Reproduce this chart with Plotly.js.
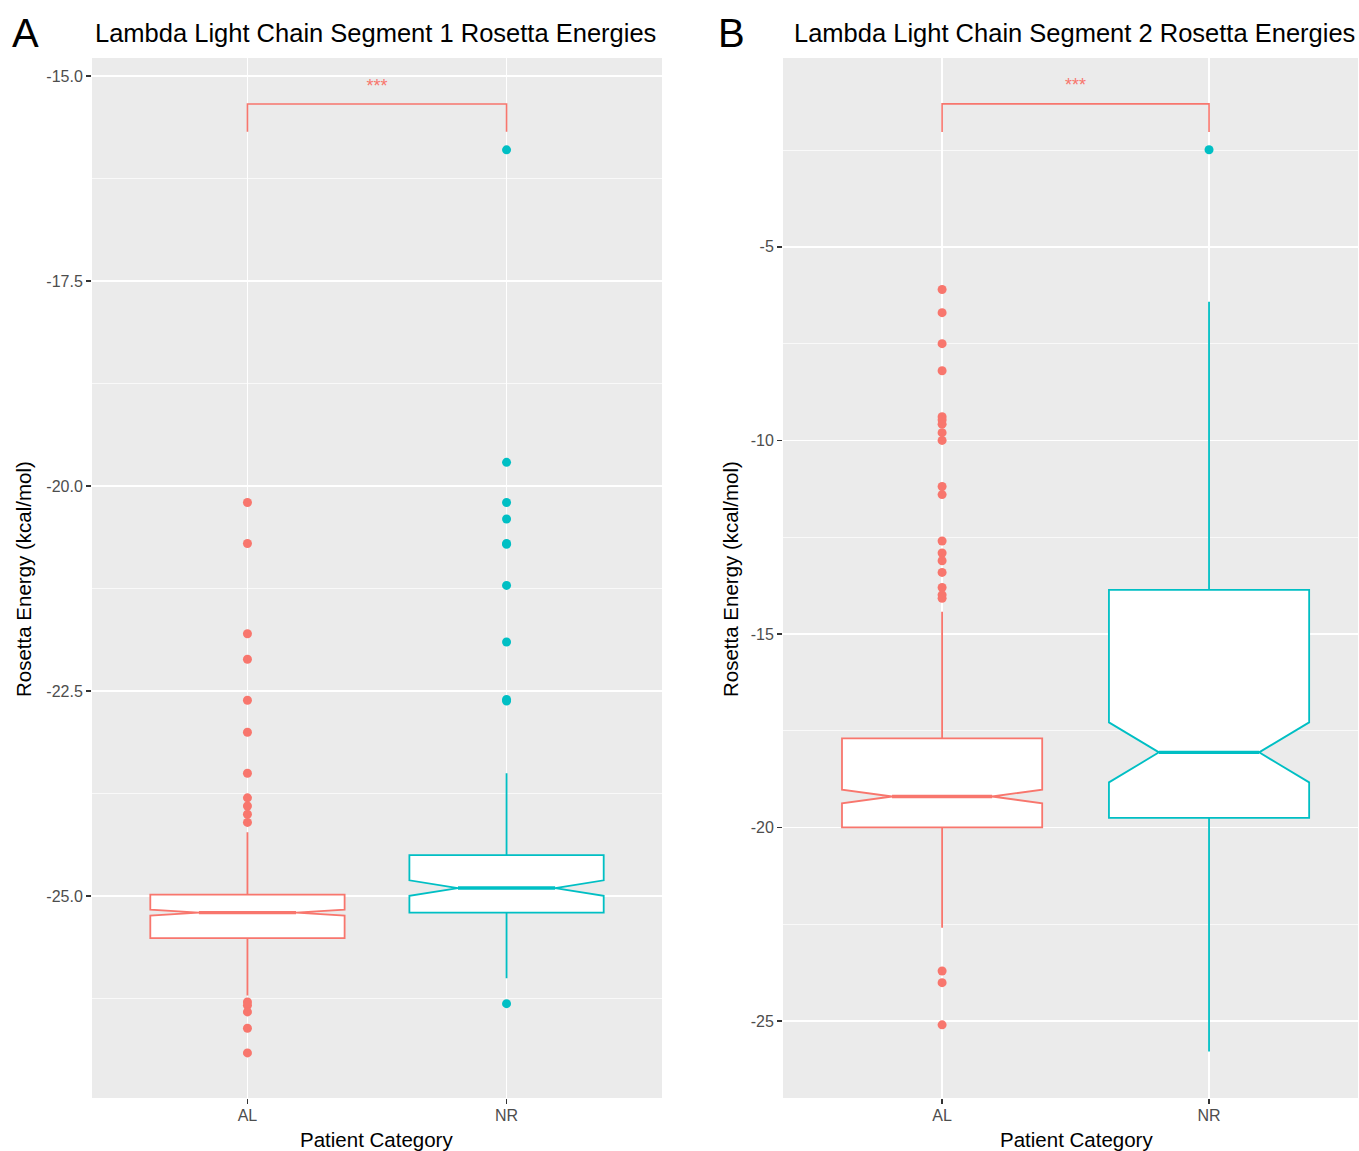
<!DOCTYPE html>
<html>
<head>
<meta charset="utf-8">
<script src="https://cdn.plot.ly/plotly-3.0.1.min.js"></script>
<style>html,body{margin:0;padding:0;background:#fff;}#chart{width:1359px;height:1151px;}</style>
</head>
<body>
<div id="chart"></div>
<script>
// ---- data ----
const categories = ['AL', 'NR'];
const colors = ['#F8766D', '#00BFC4'];

// Segment 1 (panel A)
const seg1Q1 = [-25.51, -25.20];
const seg1Median = [-25.20, -24.90];
const seg1Q3 = [-24.98, -24.50];
const seg1Lower = [-26.21, -26.00];
const seg1Upper = [-24.22, -23.50];
const seg1Notch = [0.035, 0.094];
const seg1OutAL = [-20.20, -20.70, -21.80, -22.11, -22.61, -23.00, -23.50, -23.80, -23.90, -24.00, -24.10, -26.29, -26.33, -26.41, -26.61, -26.91];
const seg1OutNR = [-15.90, -19.71, -20.20, -20.40, -20.70, -20.71, -21.21, -21.90, -22.60, -22.62, -26.31];
const seg1TickVals = [-25, -22.5, -20, -17.5, -15];
const seg1TickText = ['-25.0', '-22.5', '-20.0', '-17.5', '-15.0'];
const seg1Bracket = {low: -15.68, high: -15.34, label: -15.14};

// Segment 2 (panel B)
const seg2Q1 = [-20.00, -19.75];
const seg2Median = [-19.20, -18.06];
const seg2Q3 = [-17.70, -13.86];
const seg2Lower = [-22.59, -25.79];
const seg2Upper = [-14.43, -6.42];
const seg2Notch = [0.177, 0.775];
const seg2OutAL = [-6.10, -6.70, -7.50, -8.20, -9.39, -9.47, -9.58, -9.80, -10.00, -11.19, -11.40, -12.60, -12.91, -13.11, -13.41, -13.80, -13.99, -14.08, -23.71, -24.01, -25.10];
const seg2OutNR = [-2.49];
const seg2TickVals = [-25, -20, -15, -10, -5];
const seg2TickText = ['-25', '-20', '-15', '-10', '-5'];
const seg2Bracket = {low: -2.03, high: -1.305, label: -0.86};

const panelTitles = ['Lambda Light Chain Segment 1 Rosetta Energies', 'Lambda Light Chain Segment 2 Rosetta Energies'];
const panelLetters = ['A', 'B'];
const sigLabel = '***';

// ---- build ----
const FONT = '"Liberation Sans", Arial, Helvetica, sans-serif';
const BOXW = 0.75;
const traces = [];

function addPanel(q1, med, q3, lo, hi, notch, outs, bracket, xa, ya) {
  categories.forEach((c, i) => {
    traces.push({
      type: 'box', xaxis: xa, yaxis: ya,
      x: [i], q1: [q1[i]], median: [med[i]], q3: [q3[i]],
      lowerfence: [lo[i]], upperfence: [hi[i]], notchspan: [notch[i]],
      notched: true, boxpoints: false, width: BOXW, whiskerwidth: 0,
      fillcolor: '#FFFFFF', line: {color: colors[i], width: 1.8},
      showlegend: false, hoverinfo: 'skip'
    });
  });
  categories.forEach((c, i) => {
    traces.push({
      type: 'scatter', mode: 'lines', xaxis: xa, yaxis: ya,
      x: [i - BOXW / 4, i + BOXW / 4], y: [med[i], med[i]],
      line: {color: colors[i], width: 3.4}, showlegend: false, hoverinfo: 'skip'
    });
  });
  outs.forEach((vals, i) => {
    traces.push({
      type: 'scatter', mode: 'markers', xaxis: xa, yaxis: ya,
      x: vals.map(() => i), y: vals,
      marker: {color: colors[i], size: 9, line: {width: 0}},
      showlegend: false, hoverinfo: 'skip'
    });
  });
  traces.push({
    type: 'scatter', mode: 'lines', xaxis: xa, yaxis: ya,
    x: [0, 0, 1, 1], y: [bracket.low, bracket.high, bracket.high, bracket.low],
    line: {color: colors[0], width: 1.6}, showlegend: false, hoverinfo: 'skip'
  });
  traces.push({
    type: 'scatter', mode: 'text', xaxis: xa, yaxis: ya,
    x: [0.5], y: [bracket.label], text: [sigLabel],
    textfont: {color: colors[0], size: 18, family: FONT},
    showlegend: false, hoverinfo: 'skip'
  });
}

addPanel(seg1Q1, seg1Median, seg1Q3, seg1Lower, seg1Upper, seg1Notch, [seg1OutAL, seg1OutNR], seg1Bracket, 'x', 'y');
addPanel(seg2Q1, seg2Median, seg2Q3, seg2Lower, seg2Upper, seg2Notch, [seg2OutAL, seg2OutNR], seg2Bracket, 'x2', 'y2');

const W = 1359, H = 1151;
const px = v => v / W, py = v => 1 - v / H;

function xaxisDef(domain, range) {
  return {
    domain: domain, range: range, tickmode: 'array', tickvals: [0, 1], ticktext: categories,
    showgrid: true, gridcolor: '#FFFFFF', gridwidth: 1.5, zeroline: false, showline: false,
    ticks: 'outside', ticklen: 5, tickwidth: 1.5, tickcolor: '#333333', ticklabelstandoff: -2,
    tickfont: {family: FONT, size: 16, color: '#4D4D4D'}, automargin: false, fixedrange: true
  };
}
function yaxisDef(range, tv, tt, minor0, minorStep) {
  return {
    domain: [py(1098), py(58)], range: range, tickmode: 'array', tickvals: tv, ticktext: tt,
    showgrid: true, gridcolor: '#FFFFFF', gridwidth: 1.5, zeroline: false, showline: false,
    ticks: 'outside', ticklen: 5, tickwidth: 1.5, tickcolor: '#333333',
    tickfont: {family: FONT, size: 16, color: '#4D4D4D'}, automargin: false, fixedrange: true,
    minor: {tickmode: 'linear', tick0: minor0, dtick: minorStep, showgrid: true, gridcolor: '#FFFFFF', gridwidth: 0.7, ticks: ''}
  };
}

const ann = [];
function txt(text, x, y, size, xanchor, angle) {
  ann.push({text: text, x: px(x), y: py(y), xref: 'paper', yref: 'paper', showarrow: false,
    xanchor: xanchor, yanchor: 'middle', textangle: angle || 0,
    font: {family: FONT, size: size, color: '#000000'}});
}
txt(panelLetters[0], 10, 33, 40, 'left');
txt(panelLetters[1], 716, 33, 40, 'left');
txt(panelTitles[0], 93, 33, 25.5, 'left');
txt(panelTitles[1], 792, 33, 25.5, 'left');
txt('Rosetta Energy (kcal/mol)', 23, 579, 20.5, 'center', -90);
txt('Rosetta Energy (kcal/mol)', 730, 579, 20.5, 'center', -90);
txt('Patient Category', 376, 1139, 20.5, 'center');
txt('Patient Category', 1076, 1139, 20.5, 'center');

const layout = {
  width: W, height: H, margin: {l: 0, r: 0, t: 0, b: 0},
  paper_bgcolor: '#FFFFFF', plot_bgcolor: '#EBEBEB', showlegend: false,
  xaxis: xaxisDef([px(92), px(662)], [-0.6, 1.6]),
  yaxis: yaxisDef([-27.46, -14.78], seg1TickVals, seg1TickText, -16.25, 2.5),
  xaxis2: xaxisDef([px(783), px(1358)], [-0.596, 1.558]),
  yaxis2: yaxisDef([-26.99, -0.12], seg2TickVals, seg2TickText, -2.5, 5),
  annotations: ann
};
layout.xaxis2.anchor = 'y2';
layout.yaxis2.anchor = 'x2';

Plotly.newPlot('chart', traces, layout, {displayModeBar: false, staticPlot: true});
</script>
</body>
</html>
